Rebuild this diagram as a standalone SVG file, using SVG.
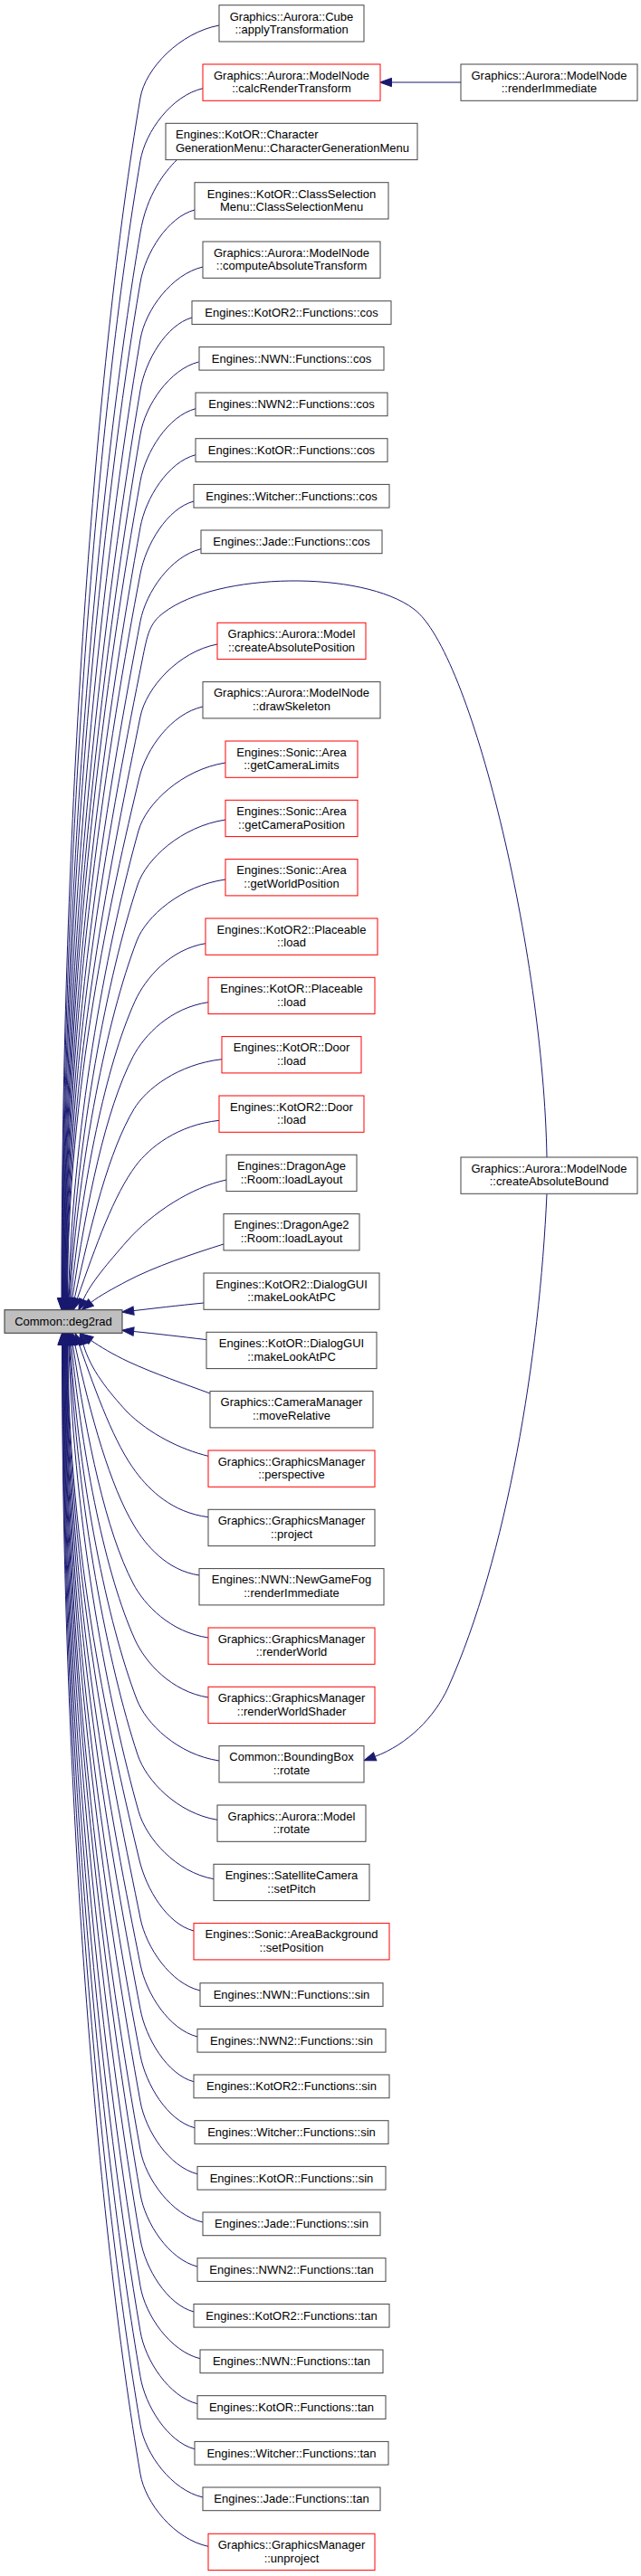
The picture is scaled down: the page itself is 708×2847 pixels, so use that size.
<svg xmlns="http://www.w3.org/2000/svg" width="708" height="2847" viewBox="0 0 708 2847">
<style>
.node rect{fill:#fff;stroke:#444;stroke-width:1}
.node.red rect{stroke:#f00}
.node.focus rect{fill:#bfbfbf;stroke:#333}
text{font-family:"Liberation Sans",Arial,Helvetica,sans-serif;font-size:13px;fill:#000;text-anchor:middle}
text.l{text-anchor:start}
#edges path{fill:none;stroke:#191970;stroke-width:1;marker-end:url(#ah)}
</style>
<defs>
<marker id="ah" viewBox="0 0 14 10" markerWidth="14" markerHeight="10" refX="0.5" refY="5" orient="auto" markerUnits="userSpaceOnUse" overflow="visible">
<path d="M0.5,0.3 L13.5,5 L0.5,9.7 Z" fill="#191970" stroke="#191970" stroke-width="1"/>
</marker>
</defs>
<rect width="708" height="2847" fill="#fff"/>
<g id="edges">
<path d="M242,28 C198.5,36 160.4,76 155,108 C105.4,399.9 68,904 68,1434.7"/>
<path d="M224,97.7 C189.5,105.7 160.4,145.7 155,177.7 C108,454.2 68.5,931.9 68.5,1434.7"/>
<path d="M195,177 C182,190 162,215 155,257 C111,516.1 69,963.6 69,1434.7"/>
<path d="M215,232 C185,240 160.4,280 155,312 C113,559 69.5,985.6 69.5,1434.7"/>
<path d="M224,295 C189.5,303 160.4,343 155,375 C115.4,608.1 70,1010.8 70,1434.7"/>
<path d="M212,351 C183.5,359 160.4,399 155,431 C117.5,651.8 70.5,1033.2 70.5,1434.7"/>
<path d="M219.5,400 C187.3,408 160.4,448 155,480 C119.3,690 71,1052.8 71,1434.7"/>
<path d="M216,451.7 C185.5,459.7 160.8,499.7 155,531.7 C119.2,730.4 71.5,1073.5 71.5,1434.7"/>
<path d="M216,502.7 C185.5,510.7 160.8,550.7 155,582.7 C121.3,770.1 72,1093.9 72,1434.7"/>
<path d="M214,554 C184.5,562 161.1,602 155,634 C121.5,810.2 72.5,1114.4 72.5,1434.7"/>
<path d="M222,606.7 C188.5,614.7 161.1,654.7 155,686.7 C123.7,851.3 73,1135.5 73,1434.7"/>
<path d="M604,1279 C600,1050 520,720 457,673 C400,630 240,632 181,677 C165,689 163,700 157,730 C126,885 73.5,1152.8 73.5,1434.7"/>
<path d="M240,712 C197.5,720 161.4,760 155,792 C126.7,933.4 74,1177.6 74,1434.7"/>
<path d="M224,781 C189,788.8 161.5,827.8 154,859 C123.6,985.7 74.5,1204.4 74.5,1434.7"/>
<path d="M249,843 C201,850.5 161.4,888 153,918 C121.2,1031.7 81.6,1228 75.4,1434.7"/>
<path d="M249,906 C200.5,913.2 161.5,949.2 152,978 C118.8,1078.5 85.3,1252 76.2,1434.7"/>
<path d="M249,972 C200,978.8 161.3,1012.8 151,1040 C118,1126.8 88,1276.8 76.9,1434.7"/>
<path d="M227,1042.7 C188,1049.1 160.5,1081.1 149,1106.7 C116.5,1178.9 91.4,1303.6 78.3,1434.8"/>
<path d="M230,1107.7 C188.5,1113.7 159.5,1143.7 147,1167.7 C116.4,1226.5 95.9,1328 79.9,1434.8"/>
<path d="M245,1170.7 C196.5,1176.2 161.2,1203.7 148,1225.7 C120.4,1271.7 100.7,1351.3 82.3,1435"/>
<path d="M242,1238.3 C196,1243.3 165,1268.3 150,1288.3 C125.7,1320.7 105.9,1376.6 85.3,1435.4"/>
<path d="M250,1304 C212,1312 168,1340 140,1372 C120,1395 100,1418 92,1436.5"/>
<path d="M247,1375 C215,1385 170,1400 140,1416 C125,1424 110,1432 100.5,1439.5"/>
<path d="M225,1440 C195,1443 170,1446 147.6,1448.6"/>
<path d="M228.5,1480.7 C198,1477 172,1474 147.6,1471.5"/>
<path d="M232,1540 C205,1530 170,1518 142,1505 C125,1497 110,1488 100.5,1481.4"/>
<path d="M230,1609.3 C200,1602 165,1585 140,1560 C120,1538 100,1514 92,1485.7"/>
<path d="M230,1676.7 C190,1671.7 165,1646.7 150,1626.7 C126.7,1595.7 107,1542 87.3,1485.6"/>
<path d="M220,1741 C184,1735.5 161.2,1708 148,1686 C121.6,1642 100.4,1566 82.8,1486"/>
<path d="M230,1810 C188.5,1804 159.5,1774 147,1750 C116.8,1692 96.2,1591.7 80.4,1486.2"/>
<path d="M230,1876 C189.5,1869.6 160.5,1837.6 149,1812 C116.7,1740.3 91.8,1616.5 78.8,1486.2"/>
<path d="M242,1946 C196.5,1939.2 161.3,1905.2 151,1878 C118.2,1791.8 88.4,1643 77.4,1486.3"/>
<path d="M240,2011.3 C196,2004.1 161.5,1968.1 152,1939.3 C119.1,1839.6 85.8,1667.5 76.7,1486.3"/>
<path d="M236,2076.7 C194.5,2069.2 161.4,2031.7 153,2001.7 C121.2,1888.3 82.1,1692.5 75.9,1486.3"/>
<path d="M214,2134 C184,2126.2 161.5,2087.2 154,2056 C123.9,1930.7 75,1714.2 75,1486.3"/>
<path d="M221,2200 C188,2192 161.4,2152 155,2120 C127.1,1980.6 74.5,1739.8 74.5,1486.3"/>
<path d="M218,2251 C186.5,2243 161.4,2203 155,2171 C125,2020.4 74,1760.2 74,1486.3"/>
<path d="M214,2300.7 C184.5,2292.7 161.1,2252.7 155,2220.7 C124.3,2059.1 73.5,1780.1 73.5,1486.3"/>
<path d="M215,2351.7 C185,2343.7 161.1,2303.7 155,2271.7 C122.2,2098.9 73,1800.5 73,1486.3"/>
<path d="M218,2402.7 C186.5,2394.7 160.8,2354.7 155,2322.7 C121.9,2138.7 72.5,1820.9 72.5,1486.3"/>
<path d="M224,2456 C189.5,2448 160.8,2408 155,2376 C119.8,2180.3 72,1842.2 72,1486.3"/>
<path d="M218,2505 C186.5,2497 160.4,2457 155,2425 C119.9,2218.5 71.5,1861.8 71.5,1486.3"/>
<path d="M214,2555 C184.5,2547 160.4,2507 155,2475 C118,2257.5 71,1881.8 71,1486.3"/>
<path d="M221,2606.7 C188,2598.7 160.4,2558.7 155,2526.7 C116.1,2297.8 70.5,1902.5 70.5,1486.3"/>
<path d="M218,2656.7 C186.5,2648.7 160.4,2608.7 155,2576.7 C114.2,2336.8 70,1922.5 70,1486.3"/>
<path d="M215,2706.7 C185,2698.7 160.4,2658.7 155,2626.7 C112.3,2375.8 69.5,1942.5 69.5,1486.3"/>
<path d="M224,2760 C189.5,2752 160.4,2712 155,2680 C110.4,2417.4 69,1963.8 69,1486.3"/>
<path d="M230,2814.3 C192.5,2806.3 160.4,2766.3 155,2734.3 C108.3,2459.7 68.5,1985.5 68.5,1486.3"/>
<path d="M509,91 L432.5,91"/>
<path d="M604,1319.3 C596,1500 560,1720 495,1865 C480,1898 450,1928 414.2,1941.3"/>
</g>
<g id="deg2rad" class="node focus"><rect x="5" y="1447.7" width="130" height="25.6"/><text x="70" y="1465">Common::deg2rad</text></g>
<g id="n1" class="node"><rect x="242" y="5.7" width="160" height="40.3"/><text x="322" y="22.5">Graphics::Aurora::Cube</text><text x="322" y="37">::applyTransformation</text></g>
<g id="n2" class="node red"><rect x="224" y="71" width="196" height="40.3"/><text x="322" y="87.8">Graphics::Aurora::ModelNode</text><text x="322" y="102.3">::calcRenderTransform</text></g>
<g id="n3" class="node"><rect x="183" y="136.3" width="278" height="40.3"/><text class="l" x="194" y="153.1">Engines::KotOR::Character</text><text class="l" x="194" y="167.6">GenerationMenu::CharacterGenerationMenu</text></g>
<g id="n4" class="node"><rect x="215" y="201.7" width="214" height="40.3"/><text x="322" y="218.5">Engines::KotOR::ClassSelection</text><text x="322" y="233">Menu::ClassSelectionMenu</text></g>
<g id="n5" class="node"><rect x="224" y="267" width="196" height="40.3"/><text x="322" y="283.8">Graphics::Aurora::ModelNode</text><text x="322" y="298.3">::computeAbsoluteTransform</text></g>
<g id="n6" class="node"><rect x="212" y="332.7" width="220" height="25.7"/><text x="322" y="350">Engines::KotOR2::Functions::cos</text></g>
<g id="n7" class="node"><rect x="220" y="383.4" width="204" height="25.7"/><text x="322" y="400.7">Engines::NWN::Functions::cos</text></g>
<g id="n8" class="node"><rect x="216" y="434" width="212" height="25.7"/><text x="322" y="451.3">Engines::NWN2::Functions::cos</text></g>
<g id="n9" class="node"><rect x="216" y="484.7" width="212" height="25.7"/><text x="322" y="502">Engines::KotOR::Functions::cos</text></g>
<g id="n10" class="node"><rect x="214" y="535.4" width="216" height="25.7"/><text x="322" y="552.7">Engines::Witcher::Functions::cos</text></g>
<g id="n11" class="node"><rect x="222" y="586" width="200" height="25.7"/><text x="322" y="603.3">Engines::Jade::Functions::cos</text></g>
<g id="n12" class="node red"><rect x="240" y="688.3" width="164" height="40.3"/><text x="322" y="705.1">Graphics::Aurora::Model</text><text x="322" y="719.6">::createAbsolutePosition</text></g>
<g id="n13" class="node"><rect x="224" y="753.6" width="196" height="40.3"/><text x="322" y="770.4">Graphics::Aurora::ModelNode</text><text x="322" y="784.9">::drawSkeleton</text></g>
<g id="n14" class="node red"><rect x="249" y="819" width="146" height="40.3"/><text x="322" y="835.8">Engines::Sonic::Area</text><text x="322" y="850.3">::getCameraLimits</text></g>
<g id="n15" class="node red"><rect x="249" y="884.3" width="146" height="40.3"/><text x="322" y="901.1">Engines::Sonic::Area</text><text x="322" y="915.6">::getCameraPosition</text></g>
<g id="n16" class="node red"><rect x="249" y="949.6" width="146" height="40.3"/><text x="322" y="966.4">Engines::Sonic::Area</text><text x="322" y="980.9">::getWorldPosition</text></g>
<g id="n17" class="node red"><rect x="227" y="1015" width="190" height="40.3"/><text x="322" y="1031.8">Engines::KotOR2::Placeable</text><text x="322" y="1046.3">::load</text></g>
<g id="n18" class="node red"><rect x="230" y="1080.3" width="184" height="40.3"/><text x="322" y="1097.1">Engines::KotOR::Placeable</text><text x="322" y="1111.6">::load</text></g>
<g id="n19" class="node red"><rect x="245" y="1145.6" width="154" height="40.3"/><text x="322" y="1162.4">Engines::KotOR::Door</text><text x="322" y="1176.9">::load</text></g>
<g id="n20" class="node red"><rect x="242" y="1211" width="160" height="40.3"/><text x="322" y="1227.8">Engines::KotOR2::Door</text><text x="322" y="1242.3">::load</text></g>
<g id="n21" class="node"><rect x="250" y="1276.3" width="144" height="40.3"/><text x="322" y="1293.1">Engines::DragonAge</text><text x="322" y="1307.6">::Room::loadLayout</text></g>
<g id="n22" class="node"><rect x="247" y="1341.6" width="150" height="40.3"/><text x="322" y="1358.4">Engines::DragonAge2</text><text x="322" y="1372.9">::Room::loadLayout</text></g>
<g id="n23" class="node"><rect x="225" y="1407" width="194" height="40.3"/><text x="322" y="1423.8">Engines::KotOR2::DialogGUI</text><text x="322" y="1438.3">::makeLookAtPC</text></g>
<g id="n24" class="node"><rect x="228" y="1472.3" width="188" height="40.3"/><text x="322" y="1489.1">Engines::KotOR::DialogGUI</text><text x="322" y="1503.6">::makeLookAtPC</text></g>
<g id="n25" class="node"><rect x="232" y="1537.6" width="180" height="40.3"/><text x="322" y="1554.4">Graphics::CameraManager</text><text x="322" y="1568.9">::moveRelative</text></g>
<g id="n26" class="node red"><rect x="230" y="1603" width="184" height="40.3"/><text x="322" y="1619.8">Graphics::GraphicsManager</text><text x="322" y="1634.3">::perspective</text></g>
<g id="n27" class="node"><rect x="230" y="1668.3" width="184" height="40.3"/><text x="322" y="1685.1">Graphics::GraphicsManager</text><text x="322" y="1699.6">::project</text></g>
<g id="n28" class="node"><rect x="220" y="1733.6" width="204" height="40.3"/><text x="322" y="1750.4">Engines::NWN::NewGameFog</text><text x="322" y="1764.9">::renderImmediate</text></g>
<g id="n29" class="node red"><rect x="230" y="1799" width="184" height="40.3"/><text x="322" y="1815.8">Graphics::GraphicsManager</text><text x="322" y="1830.3">::renderWorld</text></g>
<g id="n30" class="node red"><rect x="230" y="1864.3" width="184" height="40.3"/><text x="322" y="1881.1">Graphics::GraphicsManager</text><text x="322" y="1895.6">::renderWorldShader</text></g>
<g id="n31" class="node"><rect x="242" y="1929.6" width="160" height="40.3"/><text x="322" y="1946.4">Common::BoundingBox</text><text x="322" y="1960.9">::rotate</text></g>
<g id="n32" class="node"><rect x="240" y="1995" width="164" height="40.3"/><text x="322" y="2011.8">Graphics::Aurora::Model</text><text x="322" y="2026.3">::rotate</text></g>
<g id="n33" class="node"><rect x="236" y="2060.3" width="172" height="40.3"/><text x="322" y="2077.1">Engines::SatelliteCamera</text><text x="322" y="2091.6">::setPitch</text></g>
<g id="n34" class="node red"><rect x="214" y="2125.6" width="216" height="40.3"/><text x="322" y="2142.4">Engines::Sonic::AreaBackground</text><text x="322" y="2156.9">::setPosition</text></g>
<g id="n35" class="node"><rect x="221" y="2191.7" width="202" height="25.7"/><text x="322" y="2209">Engines::NWN::Functions::sin</text></g>
<g id="n36" class="node"><rect x="218" y="2242.4" width="208" height="25.7"/><text x="322" y="2259.7">Engines::NWN2::Functions::sin</text></g>
<g id="n37" class="node"><rect x="214" y="2293" width="216" height="25.7"/><text x="322" y="2310.3">Engines::KotOR2::Functions::sin</text></g>
<g id="n38" class="node"><rect x="215" y="2343.7" width="214" height="25.7"/><text x="322" y="2361">Engines::Witcher::Functions::sin</text></g>
<g id="n39" class="node"><rect x="218" y="2394.4" width="208" height="25.7"/><text x="322" y="2411.7">Engines::KotOR::Functions::sin</text></g>
<g id="n40" class="node"><rect x="224" y="2445" width="196" height="25.7"/><text x="322" y="2462.3">Engines::Jade::Functions::sin</text></g>
<g id="n41" class="node"><rect x="218" y="2495.7" width="208" height="25.7"/><text x="322" y="2513">Engines::NWN2::Functions::tan</text></g>
<g id="n42" class="node"><rect x="214" y="2546.4" width="216" height="25.7"/><text x="322" y="2563.7">Engines::KotOR2::Functions::tan</text></g>
<g id="n43" class="node"><rect x="221" y="2597" width="202" height="25.7"/><text x="322" y="2614.3">Engines::NWN::Functions::tan</text></g>
<g id="n44" class="node"><rect x="218" y="2647.7" width="208" height="25.7"/><text x="322" y="2665">Engines::KotOR::Functions::tan</text></g>
<g id="n45" class="node"><rect x="215" y="2698.4" width="214" height="25.7"/><text x="322" y="2715.7">Engines::Witcher::Functions::tan</text></g>
<g id="n46" class="node"><rect x="224" y="2749" width="196" height="25.7"/><text x="322" y="2766.3">Engines::Jade::Functions::tan</text></g>
<g id="n47" class="node red"><rect x="230" y="2800.3" width="184" height="40.3"/><text x="322" y="2817.1">Graphics::GraphicsManager</text><text x="322" y="2831.6">::unproject</text></g>
<g id="r1" class="node"><rect x="509" y="71" width="195" height="40.3"/><text x="606.5" y="87.8">Graphics::Aurora::ModelNode</text><text x="606.5" y="102.3">::renderImmediate</text></g>
<g id="r2" class="node"><rect x="509" y="1279" width="195" height="40.3"/><text x="606.5" y="1295.8">Graphics::Aurora::ModelNode</text><text x="606.5" y="1310.3">::createAbsoluteBound</text></g>
</svg>
